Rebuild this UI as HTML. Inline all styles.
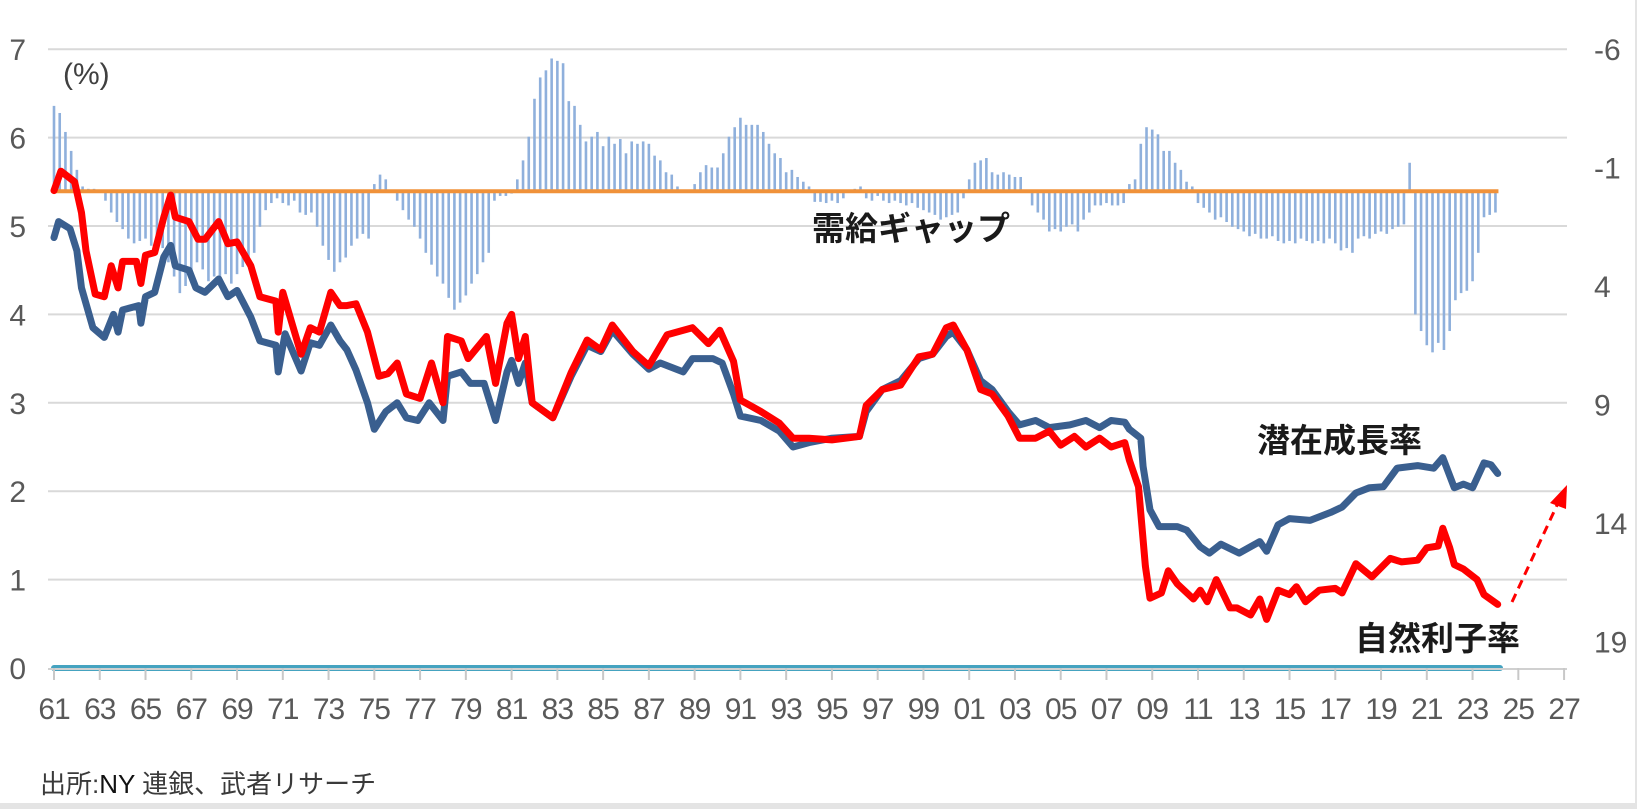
<!DOCTYPE html>
<html><head><meta charset="utf-8"><style>
html,body{margin:0;padding:0;background:#fff;}
svg{display:block;}
</style></head><body>
<svg id="chart" width="1637" height="809" viewBox="0 0 1637 809" xmlns="http://www.w3.org/2000/svg" font-family="Liberation Sans, Noto Sans CJK JP, sans-serif">
<rect x="0" y="0" width="1637" height="809" fill="#fff"/>
<rect x="0" y="803" width="1637" height="6" fill="#e4e4e4"/>
<rect x="1635" y="0" width="2" height="809" fill="#e4e4e4"/>
<g id="grid"></g>
<g id="bars"></g>
<g id="lines"></g>
<g id="axes"></g>
<text x="63" y="84" font-size="30" fill="#404040">(%)</text>
<text x="812" y="240" font-size="33" font-weight="bold" fill="#1a1a1a" font-family="Noto Sans CJK JP, sans-serif">需給ギャップ</text>
<text x="1257" y="452" font-size="33" font-weight="bold" fill="#1a1a1a" font-family="Noto Sans CJK JP, sans-serif">潜在成長率</text>
<text x="1355" y="650" font-size="33" font-weight="bold" fill="#1a1a1a" font-family="Noto Sans CJK JP, sans-serif">自然利子率</text>
<g>
<line x1="1512" y1="602" x2="1558" y2="503" stroke="#ff0000" stroke-width="3" stroke-dasharray="9,6"/>
<polygon points="1567,485 1550,503 1566,509" fill="#ff0000"/>
</g>
<text x="40" y="793" font-size="26" fill="#3a3a3a" font-family="Liberation Sans, Noto Sans CJK JP, sans-serif">出所:<tspan fill="#111">NY</tspan> 連銀、武者リサーチ</text>
</svg>
<script>
const leftTicks = [0,1,2,3,4,5,6,7];
const rightTicks = [-6,-1,4,9,14,19];
const xTickYears = [1961,1963,1965,1967,1969,1971,1973,1975,1977,1979,1981,1983,1985,1987,1989,1991,1993,1995,1997,1999,2001,2003,2005,2007,2009,2011,2013,2015,2017,2019,2021,2023,2025,2027];
const xTickLabels = ["61","63","65","67","69","71","73","75","77","79","81","83","85","87","89","91","93","95","97","99","01","03","05","07","09","11","13","15","17","19","21","23","25","27"];
const gapStartYear = 1961;
const gapValues = [
-3.6,-3.3,-2.5,-1.7, -0.9,-0.2,-0.1,-0.1, 0.0,0.4,0.9,1.3, 1.6,2.0,2.2,2.1,
2.0,2.3,2.5,2.4, 3.0,3.6,4.3,4.0, 3.5,3.0,3.3,3.8, 3.6,4.0,3.5,3.9,
3.5,3.2,2.9,2.6, 1.5,0.8,0.5,0.3, 0.5,0.6,0.4,0.9, 1.0,0.9,1.5,2.3,
2.9,3.4,3.0,2.8, 2.3,2.0,1.8,2.0, -0.3,-0.7,-0.5,0.0, 0.4,0.8,1.2,1.5,
2.0,2.6,3.1,3.6, 3.9,4.5,5.0,4.7, 4.4,3.9,3.5,3.0, 2.6,0.4,0.2,0.2,
0.1,-0.5,-1.3,-2.3, -3.9,-4.8,-5.1,-5.6, -5.5,-5.4,-3.8,-3.6, -2.8,-2.1,-2.3,-2.5,
-1.9,-2.3,-2.0,-2.2, -1.6,-2.1,-2.0,-2.1, -2.0,-1.5,-1.3,-0.8, -0.7,-0.2,0.0,0.0,
-0.3,-0.8,-1.1,-1.0, -1.0,-1.6,-2.3,-2.7, -3.1,-2.8,-2.8,-2.8, -2.5,-2.0,-1.6,-1.4,
-0.8,-0.9,-0.6,-0.4, -0.2,0.45,0.45,0.5, 0.4,0.5,0.3,0.0, -0.1,-0.2,0.3,0.4,
0.2,0.4,0.5,0.4, 0.5,0.6,0.5,0.7, 0.8,0.9,1.0,1.2, 1.1,1.0,0.9,0.3,
-0.5,-1.2,-1.3,-1.4, -0.8,-0.7,-0.8,-0.7, -0.6,-0.6,0.0,0.6, 0.9,1.2,1.7,1.6,
1.7,1.5,1.4,1.7, 1.2,0.9,0.6,0.6, 0.5,0.6,0.6,0.5, -0.3,-0.5,-2.0,-2.7,
-2.6,-2.4,-1.7,-1.7, -1.2,-0.9,-0.4,-0.2, 0.5,0.7,0.9,1.2, 1.1,1.3,1.5,1.6,
1.7,1.9,1.8,2.0, 2.0,1.9,2.1,2.2, 2.1,2.2,2.0,2.1, 2.2,2.1,2.2,2.0,
2.2,2.5,2.4,2.6, 2.0,1.9,2.0,1.8, 1.7,1.8,1.6,1.5, 1.4,-1.2,5.2,5.9,
6.5,6.8,6.4,6.7, 5.9,4.6,4.3,4.2, 3.8,2.6,1.1,1.0, 0.9];
const blueYears = [1961.0,1961.2,1961.7,1962.0,1962.2,1962.7,1963.2,1963.6,1963.8,1964.0,1964.7,1964.8,1965.0,1965.4,1965.8,1966.1,1966.3,1966.9,1967.2,1967.6,1968.2,1968.6,1969.0,1969.6,1970.0,1970.7,1970.8,1971.1,1971.8,1972.2,1972.6,1973.1,1973.5,1973.8,1974.2,1974.7,1975.0,1975.5,1976.0,1976.4,1976.9,1977.4,1978.0,1978.2,1978.8,1979.2,1979.8,1980.3,1980.8,1981.0,1981.3,1981.6,1981.9,1982.8,1983.6,1984.3,1984.9,1985.4,1986.3,1987.0,1987.5,1988.5,1988.9,1989.8,1990.2,1990.7,1991.0,1991.9,1992.7,1993.3,1994.0,1995.0,1996.2,1996.5,1997.2,1998.0,1998.8,1999.4,2000.0,2000.3,2000.9,2001.5,2002.0,2002.7,2003.2,2003.9,2004.5,2005.4,2006.1,2006.7,2007.2,2007.8,2008.0,2008.5,2008.6,2008.9,2009.3,2010.1,2010.5,2011.1,2011.5,2012.0,2012.8,2013.7,2014.0,2014.5,2015.0,2015.9,2016.8,2017.3,2017.9,2018.5,2019.1,2019.7,2020.6,2021.3,2021.7,2022.2,2022.6,2023.0,2023.5,2023.8,2024.1];
const blueValues = [4.87,5.05,4.97,4.72,4.3,3.85,3.74,4.0,3.8,4.05,4.1,3.9,4.2,4.25,4.65,4.78,4.55,4.5,4.3,4.25,4.4,4.2,4.27,3.97,3.7,3.65,3.35,3.78,3.36,3.68,3.65,3.88,3.7,3.6,3.37,3.0,2.7,2.9,3.0,2.83,2.8,3.0,2.8,3.3,3.35,3.22,3.22,2.8,3.35,3.48,3.22,3.45,3.0,2.83,3.3,3.65,3.58,3.82,3.55,3.38,3.45,3.35,3.5,3.5,3.45,3.1,2.85,2.8,2.68,2.5,2.55,2.6,2.62,2.9,3.15,3.25,3.5,3.55,3.75,3.8,3.6,3.25,3.15,2.9,2.75,2.8,2.72,2.75,2.8,2.72,2.8,2.78,2.7,2.6,2.28,1.79,1.6,1.6,1.56,1.37,1.3,1.4,1.3,1.43,1.32,1.62,1.69,1.67,1.76,1.82,1.98,2.04,2.05,2.26,2.29,2.26,2.38,2.04,2.08,2.04,2.32,2.3,2.2];
const redYears = [1961.0,1961.3,1961.9,1962.2,1962.4,1962.8,1963.2,1963.5,1963.8,1964.0,1964.6,1964.8,1965.0,1965.4,1965.8,1966.1,1966.3,1966.9,1967.3,1967.6,1968.2,1968.6,1969.0,1969.6,1970.0,1970.7,1970.8,1971.0,1971.8,1972.2,1972.6,1973.1,1973.5,1973.8,1974.2,1974.7,1975.2,1975.6,1976.0,1976.4,1977.0,1977.5,1978.0,1978.2,1978.8,1979.1,1979.9,1980.3,1980.8,1981.0,1981.3,1981.6,1981.9,1982.8,1983.6,1984.3,1984.9,1985.4,1986.3,1987.0,1987.8,1988.9,1989.6,1990.1,1990.7,1991.0,1991.9,1992.7,1993.3,1994.0,1995.0,1996.2,1996.5,1997.2,1998.0,1998.8,1999.4,2000.0,2000.3,2000.9,2001.5,2002.0,2002.7,2003.2,2003.9,2004.5,2005.0,2005.6,2006.1,2006.7,2007.2,2007.8,2008.0,2008.4,2008.7,2008.9,2009.4,2009.7,2010.1,2010.8,2011.1,2011.4,2011.8,2012.4,2012.7,2013.3,2013.7,2014.0,2014.5,2015.0,2015.3,2015.7,2016.3,2017.0,2017.3,2017.9,2018.6,2019.4,2019.9,2020.6,2021.0,2021.5,2021.7,2022.0,2022.2,2022.6,2023.2,2023.5,2024.1];
const redValues = [5.4,5.62,5.5,5.15,4.72,4.23,4.2,4.55,4.3,4.6,4.6,4.35,4.67,4.7,5.1,5.35,5.1,5.05,4.85,4.85,5.05,4.8,4.82,4.55,4.2,4.15,3.8,4.25,3.55,3.85,3.8,4.25,4.1,4.1,4.12,3.8,3.3,3.33,3.45,3.1,3.05,3.45,3.0,3.75,3.7,3.5,3.75,3.22,3.9,4.0,3.5,3.75,3.0,2.83,3.34,3.71,3.6,3.88,3.58,3.42,3.77,3.85,3.67,3.82,3.47,3.03,2.9,2.77,2.6,2.6,2.58,2.62,2.97,3.15,3.2,3.52,3.55,3.85,3.88,3.6,3.15,3.1,2.85,2.6,2.6,2.68,2.52,2.62,2.5,2.6,2.5,2.55,2.35,2.05,1.15,0.79,0.85,1.1,0.95,0.78,0.88,0.75,1.0,0.68,0.68,0.6,0.78,0.55,0.88,0.83,0.92,0.75,0.88,0.9,0.85,1.18,1.03,1.24,1.2,1.22,1.36,1.38,1.58,1.36,1.17,1.12,1.0,0.83,0.72];
const zeroLineEnd = 2024.2;

const NS = "http://www.w3.org/2000/svg";
function xScale(yr){ return 54 + (yr - 1961) * 22.88; }
function yLeft(v){ return 668 - v * 88.4; }
function yRight(v){ return 49 + (v + 6) * 23.7; }
function mk(tag, attrs, parent){ const e=document.createElementNS(NS,tag); for(const k in attrs) e.setAttribute(k, attrs[k]); parent.appendChild(e); return e; }

const grid=document.getElementById('grid'), bars=document.getElementById('bars'), lines=document.getElementById('lines'), axes=document.getElementById('axes');

leftTicks.forEach(function(v){
  if(v>0){
    const g=mk('line',{x1:48,x2:1567,y1:yLeft(v),y2:yLeft(v),stroke:'#d9d9d9','stroke-width':2},grid);
    
    
  }
  const t=mk('text',{x:26,y:yLeft(v)+11,'font-size':30,fill:'#595959','text-anchor':'end'},axes);
  t.textContent=String(v);
  
  
});
rightTicks.forEach(function(v){
  const t=mk('text',{x:1594,y:yRight(v)+11,'font-size':30,fill:'#595959'},axes);
  t.textContent=String(v);
  
  
});
const ax=mk('line',{x1:48,x2:1567,y1:669,y2:669,stroke:'#d0d0d0','stroke-width':2},axes);


xTickYears.forEach(function(yr,i){
  const x=xScale(yr);
  const tk=mk('line',{x1:x,x2:x,y1:668,y2:680,stroke:'#c8c8c8','stroke-width':2},axes);
  
  
  const t=mk('text',{x:x,y:719,'font-size':30,fill:'#595959','text-anchor':'middle','letter-spacing':'-1'},axes);
  t.textContent=xTickLabels[i];
  
  
});

const y0=yRight(0);
gapValues.forEach(function(v,i){
  const x=xScale(gapStartYear + i/4);
  const b=mk('rect',{x:x-1.3,width:2.6,y:Math.min(y0,yRight(v)),height:Math.max(0.5,Math.abs(yRight(v)-y0)),fill:'#8fb0dc'},bars);
  
  
});
const ol=mk('line',{x1:xScale(gapStartYear),x2:xScale(gapStartYear+(gapValues.length-1)/4)+3,y1:y0,y2:y0,stroke:'#f0923a','stroke-width':4},bars);



const zl=mk('line',{x1:xScale(1961),x2:xScale(zeroLineEnd),y1:yLeft(0),y2:yLeft(0),stroke:'#45a3c0','stroke-width':6,'stroke-linecap':'round'},lines);



function path(years, vals){ return years.map(function(y,i){return (i?'L':'M')+xScale(y).toFixed(1)+','+yLeft(vals[i]).toFixed(1);}).join(''); }
const bl=mk('path',{d:path(blueYears,blueValues),fill:'none',stroke:'#3a5f8f','stroke-width':7,'stroke-linejoin':'round','stroke-linecap':'round'},lines);


const rl=mk('path',{d:path(redYears,redValues),fill:'none',stroke:'#ff0000','stroke-width':7,'stroke-linejoin':'round','stroke-linecap':'round'},lines);


</script>
</body></html>
